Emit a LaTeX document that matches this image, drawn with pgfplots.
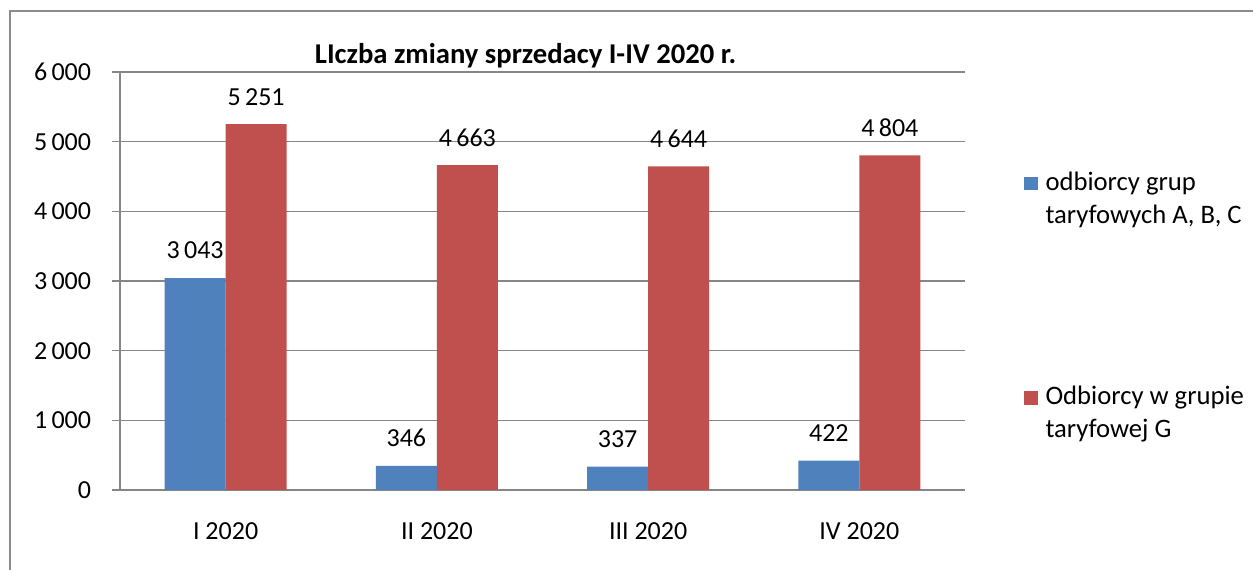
\documentclass[border=0pt]{standalone}
\usepackage{pgfplots}
\pgfplotsset{compat=1.18}
\usepackage{fontspec}
\setmainfont{Carlito}
\definecolor{sblue}{HTML}{4F81BD}
\definecolor{sred}{HTML}{C0504D}
\definecolor{gridgray}{HTML}{868686}
\definecolor{framegray}{HTML}{8C8C8C}
\begin{document}
\fontsize{19.5bp}{23bp}\selectfont
\begin{tikzpicture}
\useasboundingbox (0,0) rectangle (939.75bp,427.5bp);
\draw[framegray, line width=1.6bp] (7.5bp,-20bp) rectangle (960bp,419.25bp);
\begin{axis}[
  at={(90bp,60bp)}, anchor=south west,
  scale only axis, width=633.75bp, height=313.5bp,
  xmin=-0.5, xmax=3.5, ymin=0, ymax=6000,
  axis x line=bottom, axis y line=left,
  axis line style={gridgray, line width=0.8bp, -},
  ybar=0pt, bar width=45.75bp,
  xtick={0,1,2,3},
  xticklabels={I 2020, II 2020, III 2020, IV 2020},
  major x tick style={draw=none},
  extra x ticks={-0.5,0.5,1.5,2.5,3.5},
  extra x tick labels={},
  extra x tick style={major tick length=6bp, tick style={gridgray, line width=0.8bp}, grid=none},
  x tick label style={yshift=-12bp},
  ytick={0,1000,2000,3000,4000,5000,6000},
  ymajorgrids,
  major grid style={gridgray, line width=0.8bp},
  tick align=outside,
  major tick length=6bp,
  y tick style={gridgray, line width=0.8bp},
  y tick label style={xshift=-9bp},
  /pgf/number format/.cd, 1000 sep={\,}, assume math mode=true,
  /pgfplots/.cd,
  tick label style={font=\fontsize{19.5bp}{23bp}\selectfont, black},
  nodes near coords,
  every node near coord/.append style={font=\fontsize{19.5bp}{23bp}\selectfont, black, inner sep=0pt, yshift=14bp},
  title={\textbf{LIczba zmiany sprzedacy I-IV 2020 r.}},
  title style={font=\fontsize{21.5bp}{25bp}\selectfont, at={(0.48,1)}, anchor=south, yshift=-10bp},
  legend style={draw=none, at={(1.065,0.775)}, anchor=north west, font=\fontsize{20bp}{25bp}\selectfont, row sep=115bp, cells={align=left, anchor=west}},
  legend image code/.code={\fill[#1, draw=none] (0bp,7bp) rectangle (10bp,17bp); \path (14bp,7bp);},
  legend cell align=left,
]
\addplot[fill=sblue, draw=none] coordinates {(0,3043) (1,346) (2,337) (3,422)};
\addplot[fill=sred, draw=none] coordinates {(0,5251) (1,4663) (2,4644) (3,4804)};
\legend{{odbiorcy grup\\taryfowych A, B, C}, {Odbiorcy w grupie\\taryfowej G}}
\end{axis}
\end{tikzpicture}
\end{document}
